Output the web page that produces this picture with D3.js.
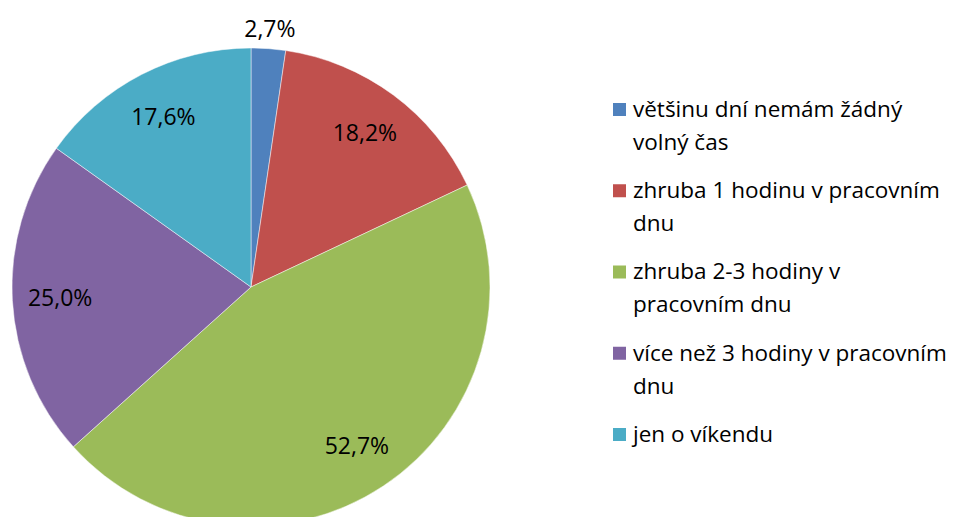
<!DOCTYPE html>
<html>
<head>
<meta charset="utf-8">
<script src="https://cdn.jsdelivr.net/npm/d3@7"></script>
<style>
  body { margin: 0; background: #fff; }
  svg { display: block; font-family: "Open Sans", Lato, sans-serif; }
</style>
</head>
<body>
<svg id="chart" width="960" height="517"></svg>
<script>
"use strict";

// ===== Data =====
const categories = [
  ["většinu dní nemám žádný", "volný čas"],
  ["zhruba 1 hodinu v pracovním", "dnu"],
  ["zhruba 2-3 hodiny v", "pracovním dnu"],
  ["více než 3 hodiny v pracovním", "dnu"],
  ["jen o víkendu"]
];
const values = [2.7, 18.2, 52.7, 25.0, 17.6];
const colors = ["#4F81BD", "#C0504D", "#9BBB59", "#8064A2", "#4BACC6"];

// ===== Setup =====
const svg = d3.select("#chart");
const cx = 251, cy = 287, r = 239;

const pie = d3.pie().sort(null).value(d => d);
const arcs = pie(values);
const arc = d3.arc().innerRadius(0).outerRadius(r);
const labelArc = d3.arc().innerRadius(r * 0.8).outerRadius(r * 0.8);
const outerArc = d3.arc().innerRadius(r + 20).outerRadius(r + 20);

const g = svg.append("g").attr("transform", `translate(${cx},${cy})`);

// Slices
g.selectAll("path")
  .data(arcs)
  .join("path")
  .attr("d", arc)
  .attr("fill", (d, i) => colors[i])
  .attr("stroke", "#fff")
  .attr("stroke-width", 0.8)
  .attr("stroke-opacity", 0.6);

// Labels: inside unless the slice is too thin
const fmt = v => d3.format(".1f")(v).replace(".", ",") + "%";
g.selectAll("text.lbl")
  .data(arcs)
  .join("text")
  .attr("class", "lbl")
  .attr("transform", d => {
    const small = (d.endAngle - d.startAngle) < 0.2;
    const p = (small ? outerArc : labelArc).centroid(d);
    return `translate(${p[0]},${p[1]})`;
  })
  .attr("text-anchor", "middle")
  .attr("dy", "0.35em")
  .attr("font-size", 23)
  .attr("fill", "#000")
  .text(d => fmt(d.data));

// ===== Legend =====
const legend = svg.append("g").attr("transform", "translate(613,0)");
const itemY = d3.scalePoint().domain(d3.range(categories.length)).range([109, 434]);

const item = legend.selectAll("g")
  .data(categories)
  .join("g")
  .attr("transform", (d, i) => `translate(0,${itemY(i)})`);

item.append("rect")
  .attr("x", 0).attr("y", -6)
  .attr("width", 13).attr("height", 13)
  .attr("fill", (d, i) => colors[i]);

item.append("text")
  .attr("font-size", 22.5)
  .attr("fill", "#000")
  .selectAll("tspan")
  .data(d => d)
  .join("tspan")
  .attr("x", 20)
  .attr("y", (d, i) => i * 33)
  .attr("dy", "0.35em")
  .text(d => d);
</script>
</body>
</html>
